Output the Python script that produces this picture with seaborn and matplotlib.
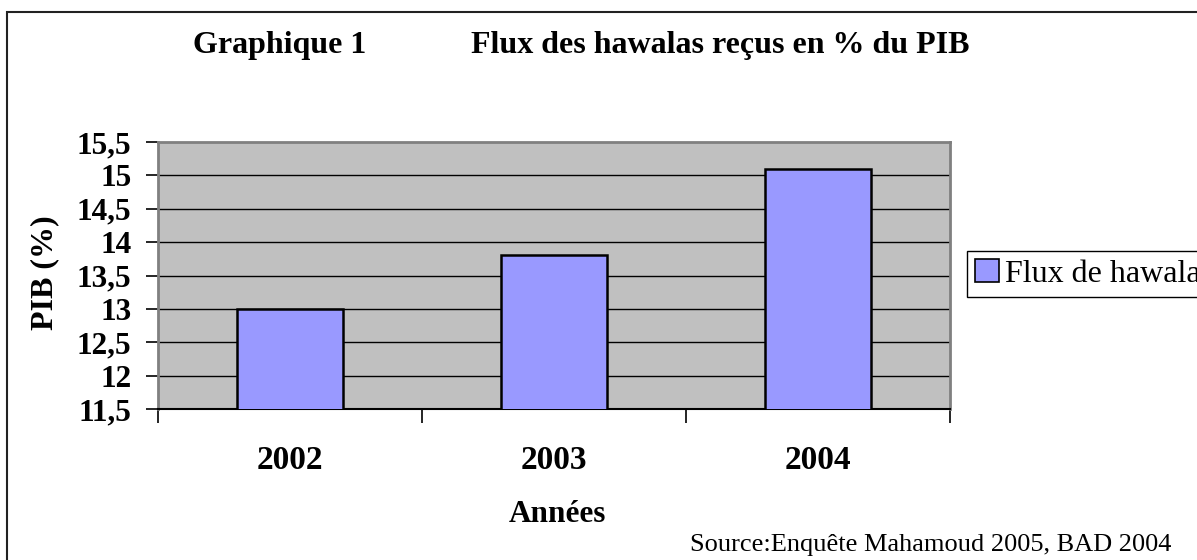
import matplotlib
matplotlib.use("Agg")
import matplotlib.pyplot as plt
import seaborn as sns
import pandas as pd
from matplotlib.patches import Rectangle, Patch
from matplotlib.ticker import FixedLocator, FixedFormatter

years = ["2002", "2003", "2004"]
values = [13.0, 13.8, 15.1]
ytick_values = [11.5, 12, 12.5, 13, 13.5, 14, 14.5, 15, 15.5]
ytick_labels = ["11,5", "12", "12,5", "13", "13,5", "14", "14,5", "15", "15,5"]
series_name = "Flux de hawalas"
title_left = "Graphique 1"
title_right = "Flux des hawalas reçus en % du PIB"
xlabel = "Années"
ylabel = "PIB (%)"
source = "Source:Enquête Mahamoud 2005, BAD 2004"

sns.set_theme(style="white")
plt.rcParams["font.family"] = ["Liberation Serif", "DejaVu Serif"]
plt.rcParams["text.color"] = "black"
plt.rcParams["xtick.color"] = "black"
plt.rcParams["ytick.color"] = "black"
plt.rcParams["axes.labelcolor"] = "black"

W, H = 1197, 560
fig = plt.figure(figsize=(W / 100, H / 100), dpi=100)
fig.patch.set_facecolor("white")

def fx(px):
    return px / W

def fy(py):
    return 1 - py / H

ax = fig.add_axes([fx(158), fy(409), fx(950) - fx(158), fy(142) - fy(409)])
ax.set_facecolor("#C0C0C0")

df = pd.DataFrame({"year": years, "value": values})
sns.barplot(data=df, x="year", y="value", color="#9999FF", width=0.405,
            edgecolor="black", linewidth=1.8, saturation=1, ax=ax, zorder=3)

ax.set_xlim(-0.5, 2.5)
ax.set_ylim(11.5, 15.5)
ax.yaxis.set_major_locator(FixedLocator(ytick_values))
ax.yaxis.set_major_formatter(FixedFormatter(ytick_labels))
for v in ytick_values[1:-1]:
    ax.axhline(v, color="black", linewidth=1.0, zorder=1)

ax.tick_params(axis="y", which="major", direction="out", length=9, width=1.2,
               color="black", labelcolor="black", pad=10, labelsize=22.5, left=True)
for t in ax.get_yticklabels():
    t.set_fontweight("bold")

ax.xaxis.set_minor_locator(FixedLocator([-0.5, 0.5, 1.5, 2.5]))
ax.tick_params(axis="x", which="major", length=0, pad=26, labelsize=24, labelcolor="black")
ax.tick_params(axis="x", which="minor", direction="out", length=10, width=1.2,
               color="black", bottom=True)
for t in ax.get_xticklabels():
    t.set_fontweight("bold")
ax.set_xlabel("")
ax.set_ylabel("")

for s in ["left", "top", "right"]:
    ax.spines[s].set_color("#808080")
    ax.spines[s].set_linewidth(2)
ax.spines["bottom"].set_color("black")
ax.spines["bottom"].set_linewidth(1.5)

# outer border (chart area)
fig.patches.append(Rectangle((fx(7), -0.2), 1.2, fy(12) + 0.2, transform=fig.transFigure,
                             fill=False, edgecolor="#222222", linewidth=1.5, zorder=0))

fig.text(fx(280), fy(45), title_left, ha="center", va="center", fontsize=23, fontweight="bold", color="black")
fig.text(fx(720), fy(45), title_right, ha="center", va="center", fontsize=23, fontweight="bold", color="black")
fig.text(fx(557), fy(515), xlabel, ha="center", va="center", fontsize=22.5, fontweight="bold", color="black")
fig.text(fx(45), fy(273), ylabel, ha="center", va="center", rotation=90, fontsize=23, fontweight="bold", color="black")
fig.text(fx(690), fy(545), source, ha="left", va="center", fontsize=19, color="black")

handle = Patch(facecolor="#9999FF", edgecolor="black", linewidth=1.2)
leg = fig.legend([handle], [series_name], loc="center left",
                 bbox_to_anchor=(fx(967), fy(274)), frameon=True, fancybox=False,
                 framealpha=1, edgecolor="black", prop={"size": 23},
                 handlelength=0.75, handleheight=0.75, handletextpad=0.2,
                 borderpad=0.25, borderaxespad=0, labelcolor="black")
leg.get_frame().set_linewidth(1.0)

fig.savefig("out.png", dpi=100)
